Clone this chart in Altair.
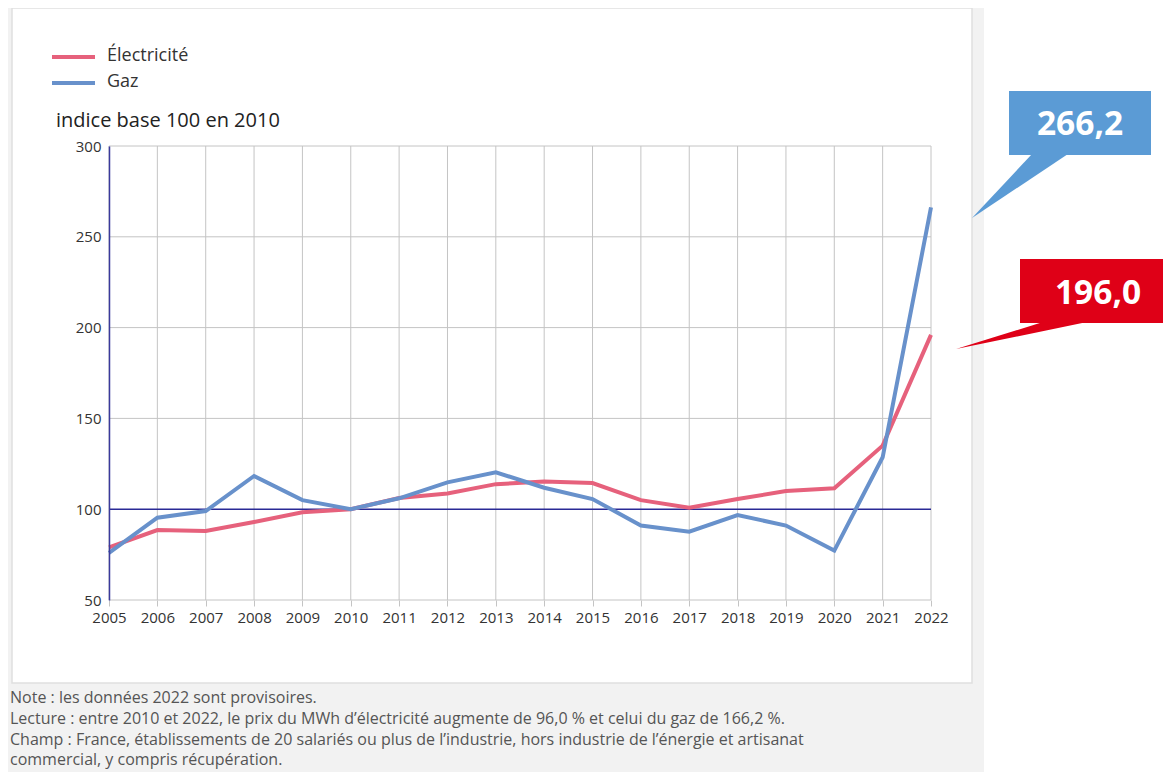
import altair as alt
import pandas as pd

years = list(range(2005, 2023))
elec = [79.0, 88.5, 88.0, 93.0, 98.3, 100.0, 106.2, 108.7, 113.8, 115.2, 114.4, 105.0,
        100.8, 105.6, 110.0, 111.5, 135.0, 196.0]
gaz = [76.0, 95.3, 99.0, 118.3, 105.0, 100.0, 106.0, 114.8, 120.3, 111.8, 105.6, 91.0,
       87.6, 96.8, 91.0, 77.2, 128.6, 266.2]
series_names = ["Électricité", "Gaz"]
series_colors = ["#e6617c", "#6891cb"]
y_ticks = [50, 100, 150, 200, 250, 300]
y_title = "indice base 100 en 2010"
callout_labels = ["266,2", "196,0"]
notes = [
    "Note : les données 2022 sont provisoires.",
    "Lecture : entre 2010 et 2022, le prix du MWh d’électricité augmente de 96,0 % et celui du gaz de 166,2 %.",
    "Champ : France, établissements de 20 salariés ou plus de l’industrie, hors industrie de l’énergie et artisanat",
    "commercial, y compris récupération.",
]

W, H = 822, 454
FONT = "Open Sans"

xs = alt.Scale(domain=[2005, 2022], nice=False, zero=False)
ys = alt.Scale(domain=[50, 300], nice=False, zero=False)

df_e = pd.DataFrame({"year": years, "val": elec})
df_g = pd.DataFrame({"year": years, "val": gaz})
df_years = pd.DataFrame({"year": years})
df_yt = pd.DataFrame({"v": [v for v in y_ticks if v != 100]})
df_100 = pd.DataFrame({"v": [100]})
dummy = pd.DataFrame({"a": [0]})

# background panel and white box
bg_gray = alt.Chart(dummy).mark_rect(color="#f2f2f2").encode(
    x=alt.value(-101), x2=alt.value(875), y=alt.value(-140), y2=alt.value(640))
bg_white = alt.Chart(dummy).mark_rect(color="white", stroke="#e0e0e0", strokeWidth=1.5).encode(
    x=alt.value(-97), x2=alt.value(863), y=alt.value(-138), y2=alt.value(537))

vgrid = alt.Chart(df_years).mark_rule(color="#c4c4c4", strokeWidth=1).encode(
    x=alt.X("year:Q", scale=xs, axis=alt.Axis(values=years, format="d", grid=False, domain=False,
                                               tickColor="#c4c4c4", tickSize=6, labelPadding=4,
                                               labelFontSize=15, labelColor="#333", labelFont=FONT,
                                               title=None, zindex=1, labelFlush=False)),
    y=alt.value(0), y2=alt.value(H))
hgrid = alt.Chart(df_yt).mark_rule(color="#c4c4c4", strokeWidth=1).encode(
    y=alt.Y("v:Q", scale=ys, axis=alt.Axis(values=y_ticks, grid=False, domain=True, domainColor="#3a3a9c",
                                            domainWidth=1.5, ticks=False, labelPadding=8,
                                            labelFontSize=15, labelColor="#333", labelFont=FONT,
                                            title=None, zindex=1)),
    x=alt.value(0), x2=alt.value(W))
line100 = alt.Chart(df_100).mark_rule(color="#2a2a96", strokeWidth=1.5).encode(
    y=alt.Y("v:Q", scale=ys), x=alt.value(0), x2=alt.value(W))

line_e = alt.Chart(df_e).mark_line(color=series_colors[0], strokeWidth=4).encode(
    x=alt.X("year:Q", scale=xs), y=alt.Y("val:Q", scale=ys))
line_g = alt.Chart(df_g).mark_line(color=series_colors[1], strokeWidth=4).encode(
    x=alt.X("year:Q", scale=xs), y=alt.Y("val:Q", scale=ys))

# legend
leg = []
for i, (name, col) in enumerate(zip(series_names, series_colors)):
    yy = -89 + i * 26
    leg.append(alt.Chart(dummy).mark_rule(color=col, strokeWidth=4).encode(
        x=alt.value(-57), x2=alt.value(-14), y=alt.value(yy)))
    leg.append(alt.Chart(dummy).mark_text(text=name, align="left", baseline="middle", font=FONT,
                                          fontSize=18, color="#333").encode(
        x=alt.value(-2), y=alt.value(yy - 1)))

title_txt = alt.Chart(dummy).mark_text(text=y_title, align="left", baseline="middle", font=FONT,
                                       fontSize=20, color="#222").encode(x=alt.value(-53), y=alt.value(-25))

note_layers = []
for i, t in enumerate(notes):
    yy = [557, 578, 599, 619][i]
    note_layers.append(alt.Chart(dummy).mark_text(text=t, align="left", baseline="alphabetic", font=FONT,
                                                  fontSize=16, color="#555").encode(
        x=alt.value(-99), y=alt.value(yy)))

# callouts
blue_c, red_c = "#5b9bd5", "#df0017"
blue_box = alt.Chart(dummy).mark_rect(color=blue_c).encode(
    x=alt.value(900), x2=alt.value(1042), y=alt.value(-55), y2=alt.value(9))
blue_ptr = alt.Chart(dummy).mark_point(shape="M0,0 L0.60,-0.64 L0.96,-0.64 Z", filled=True, size=40000,
                                       color=blue_c, opacity=1, strokeWidth=0).encode(
    x=alt.value(863), y=alt.value(72))
blue_txt = alt.Chart(dummy).mark_text(text=callout_labels[0], font=FONT, fontWeight="bold", fontSize=33.5,
                                      color="white", align="center", baseline="middle").encode(
    x=alt.value(971), y=alt.value(-21))
red_box = alt.Chart(dummy).mark_rect(color=red_c).encode(
    x=alt.value(911), x2=alt.value(1063), y=alt.value(113), y2=alt.value(177))
red_ptr = alt.Chart(dummy).mark_point(shape="M0,0 L0.87,-0.27 L1.31,-0.27 Z", filled=True, size=40000,
                                      color=red_c, opacity=1, strokeWidth=0).encode(
    x=alt.value(847), y=alt.value(203))
red_txt = alt.Chart(dummy).mark_text(text=callout_labels[1], font=FONT, fontWeight="bold", fontSize=33.5,
                                     color="white", align="center", baseline="middle").encode(
    x=alt.value(989), y=alt.value(148))

chart = alt.layer(
    bg_gray, bg_white, vgrid, hgrid, line100, line_e, line_g,
    *leg, title_txt, *note_layers,
    blue_box, blue_ptr, blue_txt, red_box, red_ptr, red_txt,
).properties(
    width=W, height=H,
    autosize=alt.AutoSizeParams(type="none"),
    padding={"left": 101, "top": 138, "right": 232, "bottom": 172},
).configure_view(strokeWidth=0).configure(font=FONT)

chart.save("out.html", embed_options={"renderer": "svg", "actions": False})
